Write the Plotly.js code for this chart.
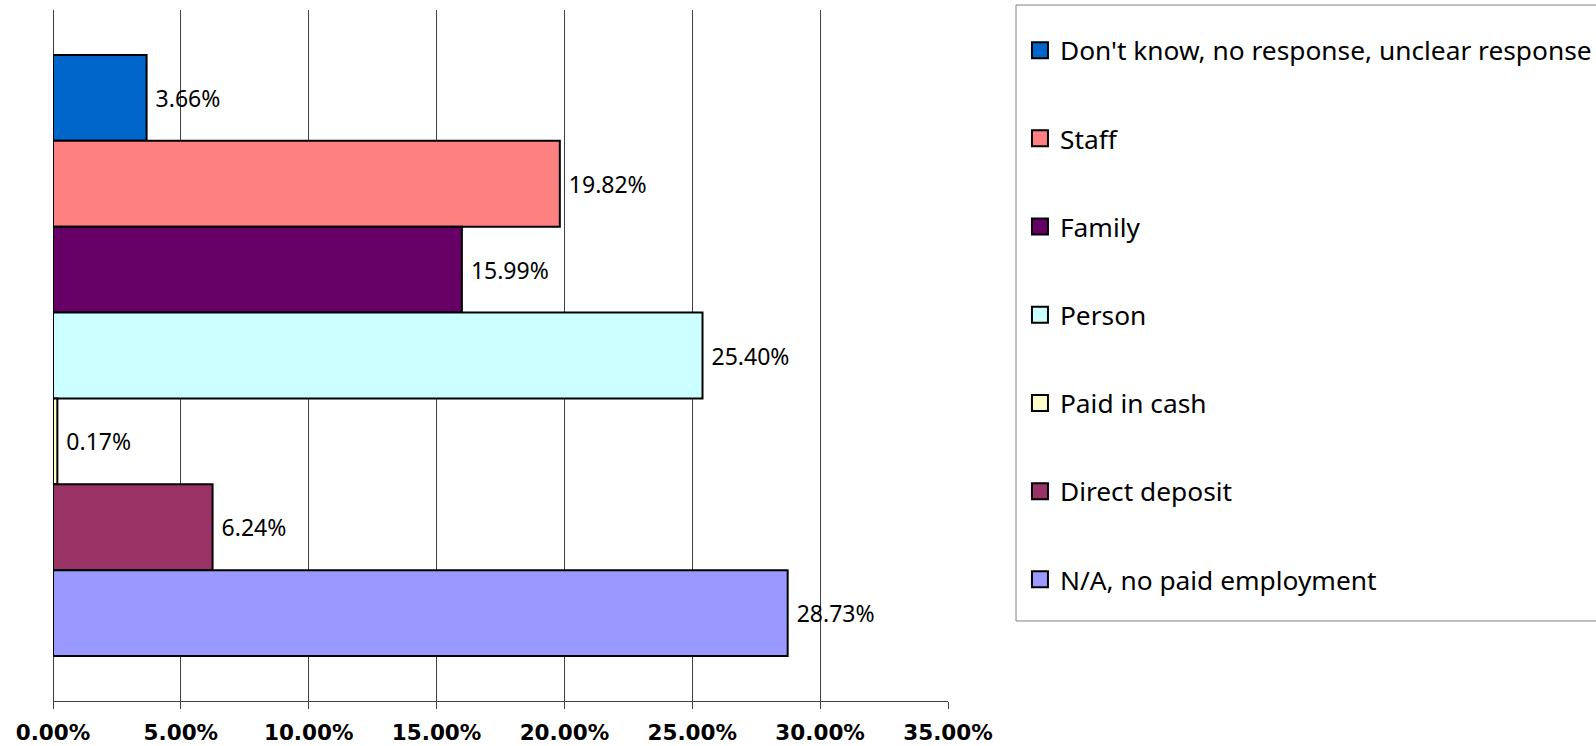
<!DOCTYPE html>
<html>
<head>
<meta charset="utf-8">
<script src="https://cdn.plot.ly/plotly-3.0.1.min.js"></script>
<style>
  html, body { margin: 0; padding: 0; background: #ffffff; }
  #chart { width: 1596px; height: 746px; }
</style>
</head>
<body>
<div id="chart"></div>
<script>
// Data (legend order, top to bottom)
const seriesNames = [
  "Don't know, no response, unclear response",
  "Staff",
  "Family",
  "Person",
  "Paid in cash",
  "Direct deposit",
  "N/A, no paid employment"
];
const seriesValues = [3.66, 19.82, 15.99, 25.40, 0.17, 6.24, 28.73];
const seriesColors = ["#0066CC", "#FF8080", "#660066", "#CCFFFF", "#FFFFCC", "#993366", "#9999FF"];
const category = ["Payment"];
const tickValues = [0, 5, 10, 15, 20, 25, 30, 35];
const tickLabels = ["0.00%", "5.00%", "10.00%", "15.00%", "20.00%", "25.00%", "30.00%", "35.00%"];

const barTraces = seriesNames.map((name, i) => ({
  type: 'bar',
  orientation: 'h',
  name: name,
  y: category,
  x: [seriesValues[i]],
  marker: { color: seriesColors[i], line: { color: '#000000', width: 2 } },
  texttemplate: '\u00A0%{x:.2f}%',
  textposition: 'outside',
  textfont: { family: 'Noto Sans', size: 23, color: '#000000' },
  cliponaxis: false,
  constraintext: 'none',
  legendgroup: 'g' + i,
  showlegend: false,
  hoverinfo: 'x+name'
}));

// legend entries (square swatches with black outline)
const legendTraces = seriesNames.map((name, i) => ({
  type: 'scatter',
  mode: 'markers',
  name: name,
  x: [null],
  y: [null],
  marker: { symbol: 'square', size: 16, color: seriesColors[i], line: { color: '#000000', width: 2 } },
  legendgroup: 'g' + i,
  showlegend: true,
  hoverinfo: 'skip'
}));

const layout = {
  width: 1596,
  height: 746,
  paper_bgcolor: '#ffffff',
  plot_bgcolor: '#ffffff',
  margin: { l: 53, r: 648, t: 10, b: 45, autoexpand: false },
  barmode: 'group',
  bargap: 0.13,
  bargroupgap: 0,
  font: { family: 'Noto Sans', color: '#000000' },
  xaxis: {
    range: [0, 35],
    tickmode: 'array',
    tickvals: tickValues,
    ticktext: tickLabels,
    showgrid: true,
    gridcolor: '#404040',
    gridwidth: 1,
    zeroline: true,
    zerolinecolor: '#404040',
    zerolinewidth: 1,
    showline: true,
    linecolor: '#404040',
    linewidth: 1,
    ticks: 'outside',
    ticklen: 7,
    tickcolor: '#404040',
    ticklabelstandoff: 5,
    tickfont: { family: 'DejaVu Sans', size: 21.5, weight: 'bold', color: '#000000' },
    fixedrange: true
  },
  yaxis: {
    type: 'category',
    autorange: 'reversed',
    showticklabels: false,
    showgrid: false,
    zeroline: false,
    showline: false,
    ticks: '',
    fixedrange: true
  },
  showlegend: true,
  legend: {
    x: 1.0804,
    xanchor: 'left',
    y: 0.976,
    yanchor: 'top',
    bgcolor: 'rgba(0,0,0,0)',
    borderwidth: 0,
    tracegroupgap: 51,
    itemsizing: 'trace',
    font: { family: 'Noto Sans', size: 26.3, color: '#000000' }
  },
  shapes: [{
    type: 'rect',
    xref: 'paper', yref: 'paper',
    x0: 1.076, x1: 1.76,
    y0: 0.1158, y1: 1.0072,
    line: { color: '#808080', width: 1 },
    fillcolor: 'rgba(0,0,0,0)',
    layer: 'below'
  }]
};

Plotly.newPlot('chart', barTraces.concat(legendTraces), layout, { displayModeBar: false, staticPlot: true });
</script>
</body>
</html>
